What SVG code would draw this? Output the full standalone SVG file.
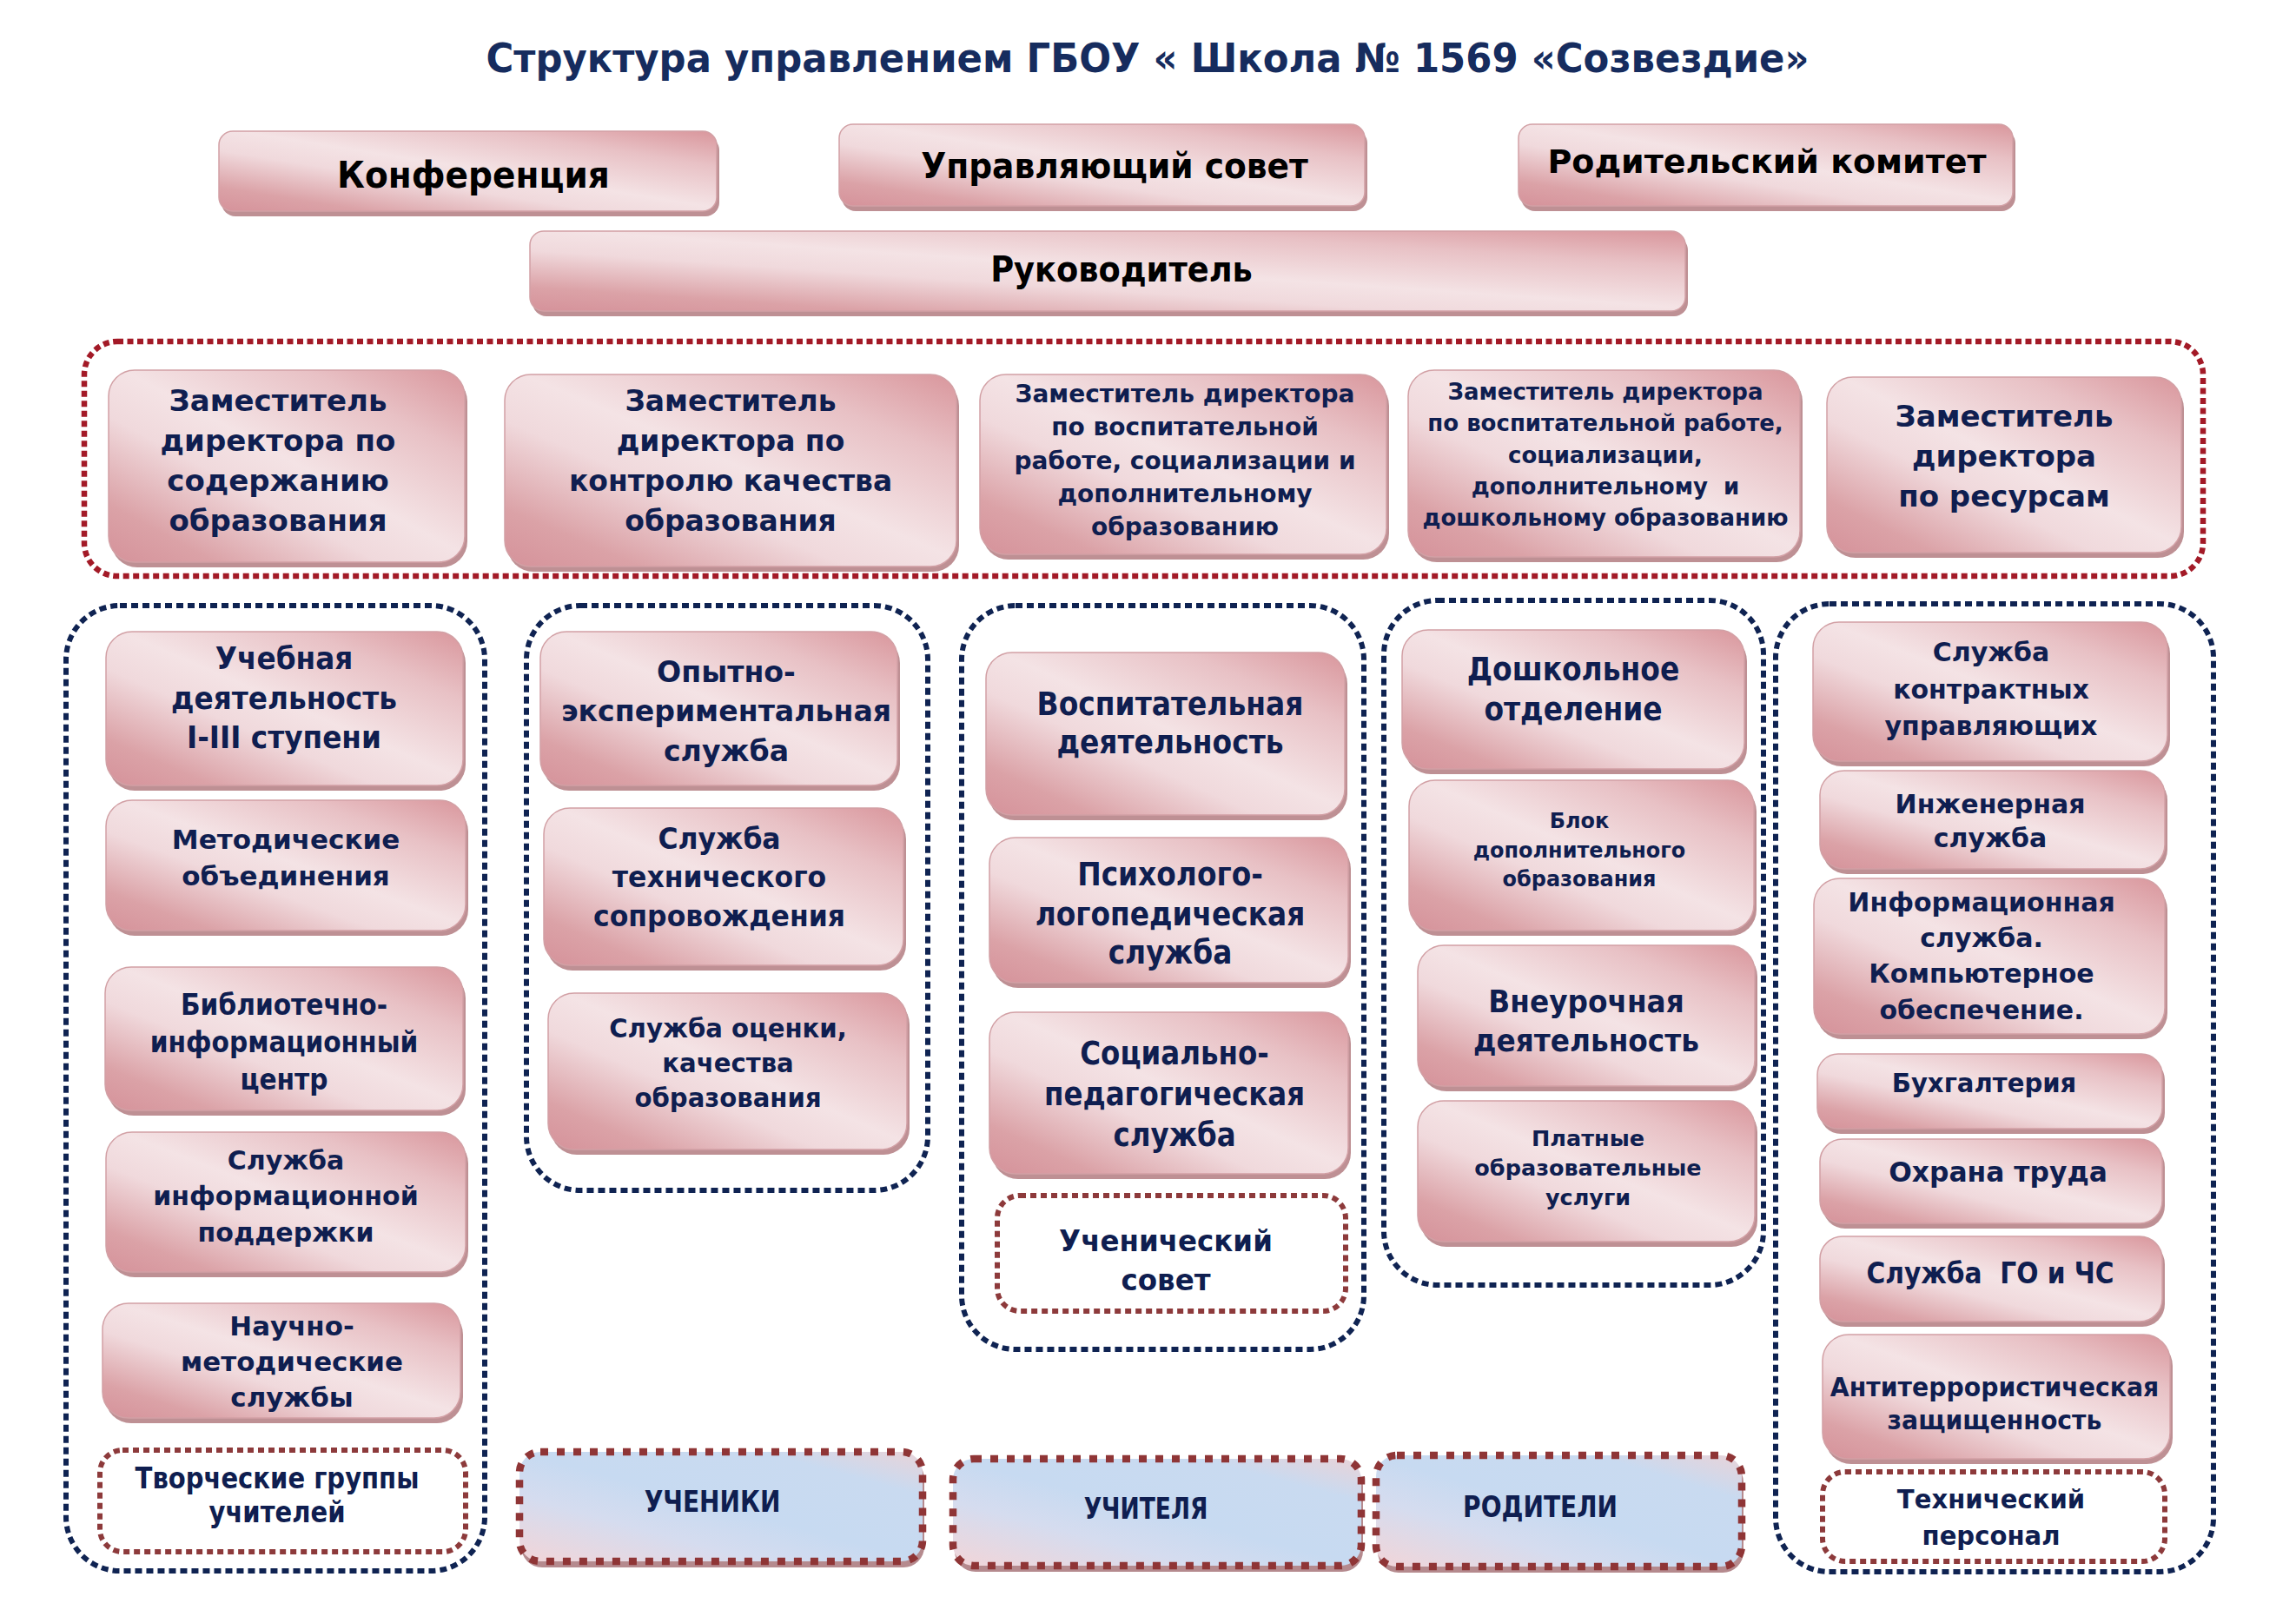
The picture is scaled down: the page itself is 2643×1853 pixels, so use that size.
<svg xmlns="http://www.w3.org/2000/svg" width="2643" height="1853" viewBox="0 0 2643 1853">
<defs>
<linearGradient id="pk" x1="1" y1="0" x2="0" y2="1">
<stop offset="0" stop-color="#d9969c"/>
<stop offset="0.22" stop-color="#e8c1c5"/>
<stop offset="0.48" stop-color="#f4e3e5"/>
<stop offset="0.62" stop-color="#f0d9dc"/>
<stop offset="0.85" stop-color="#dba2a7"/>
<stop offset="1" stop-color="#d5929a"/>
</linearGradient>
<linearGradient id="bl" x1="0" y1="1" x2="1" y2="0">
<stop offset="0" stop-color="#f2d5d8"/>
<stop offset="0.3" stop-color="#d5dcef"/>
<stop offset="0.5" stop-color="#c7daf1"/>
<stop offset="0.8" stop-color="#c9daf0"/>
<stop offset="1" stop-color="#e9d3d8"/>
</linearGradient>
<style>
.sh{fill:#be9094}
.shb{fill:#b58a8e}
.bx{fill:url(#pk);stroke:#d2a0a5;stroke-width:1.5}
.t{font-family:"DejaVu Sans","Liberation Sans",sans-serif;font-weight:bold;fill:#0f1e50;text-anchor:middle}
.k{fill:#000}
.ttl{fill:#162c5e}
.cr{fill:none;stroke:#a31a27;stroke-width:6.5;stroke-dasharray:7 4.5}
.cb{fill:none;stroke:#0f2352;stroke-width:6;stroke-dasharray:8 5}
.dr{fill:#fff;stroke:#8d3a3b;stroke-width:6;stroke-dasharray:7 5}
.db{fill:url(#bl);stroke:#8f3536;stroke-width:8.5;stroke-dasharray:9 10}
</style>
</defs>
<rect width="2643" height="1853" fill="#fff"/>

<g id="title">
<text class="t ttl" x="1321" y="83" font-size="46" textLength="1523" lengthAdjust="spacingAndGlyphs">Структура управлением ГБОУ « Школа № 1569 «Созвездие»</text>
</g>

<g id="connectors"></g>

<!-- top row -->
<g id="konferenciya">
<rect class="sh" x="255" y="157" width="573" height="92" rx="16"/>
<rect class="bx" x="252" y="151" width="573" height="92" rx="16"/>
<text class="t k" transform="matrix(0.93 0 0 1 545 0)" font-size="42"><tspan x="0" y="216">Конференция</tspan></text>
</g>
<g id="upravlyayushchiy-sovet">
<rect class="sh" x="969" y="149" width="605" height="94" rx="16"/>
<rect class="bx" x="966" y="143" width="605" height="94" rx="16"/>
<text class="t k" transform="matrix(0.94 0 0 1 1283 0)" font-size="40"><tspan x="0" y="205">Управляющий совет</tspan></text>
</g>
<g id="roditelskiy-komitet">
<rect class="sh" x="1751" y="149" width="569" height="94" rx="16"/>
<rect class="bx" x="1748" y="143" width="569" height="94" rx="16"/>
<text class="t k" transform="matrix(1 0 0 1 2034 0)" font-size="38"><tspan x="0" y="199">Родительский комитет</tspan></text>
</g>
<g id="rukovoditel">
<rect class="sh" x="613" y="272" width="1330" height="92" rx="16"/>
<rect class="bx" x="610" y="266" width="1330" height="92" rx="16"/>
<text class="t k" transform="matrix(0.92 0 0 1 1291 0)" font-size="40"><tspan x="0" y="324">Руководитель</tspan></text>
</g>

<!-- deputies -->
<g id="zamestiteli">
<rect class="cr" x="97" y="393" width="2439" height="270" rx="38"/>
</g>
<g id="zam-soderzhanie">
<rect class="sh" x="128" y="432" width="410" height="221" rx="30"/>
<rect class="bx" x="125" y="426" width="410" height="221" rx="30"/>
<text class="t" transform="matrix(1 0 0 1 320 0)" font-size="34"><tspan x="0" y="473">Заместитель</tspan><tspan x="0" y="519">директора по</tspan><tspan x="0" y="565">содержанию</tspan><tspan x="0" y="611">образования</tspan></text>
</g>
<g id="zam-kontrol">
<rect class="sh" x="584" y="437" width="520" height="221" rx="30"/>
<rect class="bx" x="581" y="431" width="520" height="221" rx="30"/>
<text class="t" transform="matrix(0.97 0 0 1 841 0)" font-size="34"><tspan x="0" y="473">Заместитель</tspan><tspan x="0" y="519">директора по</tspan><tspan x="0" y="565">контролю качества</tspan><tspan x="0" y="611">образования</tspan></text>
</g>
<g id="zam-vospitanie">
<rect class="sh" x="1131" y="437" width="468" height="207" rx="30"/>
<rect class="bx" x="1128" y="431" width="468" height="207" rx="30"/>
<text class="t" transform="matrix(1 0 0 1 1364 0)" font-size="28"><tspan x="0" y="463">Заместитель директора</tspan><tspan x="0" y="501">по воспитательной</tspan><tspan x="0" y="540">работе, социализации и</tspan><tspan x="0" y="578">дополнительному</tspan><tspan x="0" y="616">образованию</tspan></text>
</g>
<g id="zam-doshkolnoe">
<rect class="sh" x="1624" y="432" width="451" height="215" rx="30"/>
<rect class="bx" x="1621" y="426" width="451" height="215" rx="30"/>
<text class="t" transform="matrix(1 0 0 1 1848 0)" font-size="26" xml:space="preserve"><tspan x="0" y="460">Заместитель директора</tspan><tspan x="0" y="496">по воспитательной работе,</tspan><tspan x="0" y="533">социализации,</tspan><tspan x="0" y="569">дополнительному  и</tspan><tspan x="0" y="605">дошкольному образованию</tspan></text>
</g>
<g id="zam-resursy">
<rect class="sh" x="2106" y="440" width="408" height="202" rx="30"/>
<rect class="bx" x="2103" y="434" width="408" height="202" rx="30"/>
<text class="t" transform="matrix(1 0 0 1 2307 0)" font-size="34"><tspan x="0" y="491">Заместитель</tspan><tspan x="0" y="537">директора</tspan><tspan x="0" y="583">по ресурсам</tspan></text>
</g>

<!-- column containers -->
<g id="col1"><rect class="cb" x="76" y="697" width="482" height="1111" rx="62"/></g>
<g id="col2"><rect class="cb" x="606" y="697" width="462" height="673" rx="62"/></g>
<g id="col3"><rect class="cb" x="1107" y="697" width="463" height="856" rx="62"/></g>
<g id="col4"><rect class="cb" x="1593" y="691" width="437" height="788" rx="62"/></g>
<g id="col5"><rect class="cb" x="2044" y="695" width="504" height="1114" rx="62"/></g>

<!-- column 1 -->
<g id="uchebnaya">
<rect class="sh" x="125" y="733" width="411" height="177" rx="30"/>
<rect class="bx" x="122" y="727" width="411" height="177" rx="30"/>
<text class="t" transform="matrix(0.91 0 0 1 327 0)" font-size="36"><tspan x="0" y="770">Учебная</tspan><tspan x="0" y="816">деятельность</tspan><tspan x="0" y="861">I-III ступени</tspan></text>
</g>
<g id="metod-obedineniya">
<rect class="sh" x="125" y="927" width="414" height="150" rx="30"/>
<rect class="bx" x="122" y="921" width="414" height="150" rx="30"/>
<text class="t" transform="matrix(1 0 0 1 329 0)" font-size="31"><tspan x="0" y="977">Методические</tspan><tspan x="0" y="1019">объединения</tspan></text>
</g>
<g id="bibl-centr">
<rect class="sh" x="124" y="1119" width="412" height="165" rx="30"/>
<rect class="bx" x="121" y="1113" width="412" height="165" rx="30"/>
<text class="t" transform="matrix(0.9 0 0 1 327 0)" font-size="33"><tspan x="0" y="1168">Библиотечно-</tspan><tspan x="0" y="1211">информационный</tspan><tspan x="0" y="1254">центр</tspan></text>
</g>
<g id="info-podderzhka">
<rect class="sh" x="125" y="1309" width="414" height="161" rx="30"/>
<rect class="bx" x="122" y="1303" width="414" height="161" rx="30"/>
<text class="t" transform="matrix(1 0 0 1 329 0)" font-size="30"><tspan x="0" y="1346">Служба</tspan><tspan x="0" y="1387">информационной</tspan><tspan x="0" y="1429">поддержки</tspan></text>
</g>
<g id="nauchno-metod">
<rect class="sh" x="121" y="1506" width="412" height="132" rx="30"/>
<rect class="bx" x="118" y="1500" width="412" height="132" rx="30"/>
<text class="t" transform="matrix(1.03 0 0 1 336 0)" font-size="30"><tspan x="0" y="1537">Научно-</tspan><tspan x="0" y="1578">методические</tspan><tspan x="0" y="1619">службы</tspan></text>
</g>
<g id="tvorcheskie-gruppy">
<rect class="dr" x="115" y="1669" width="421" height="117" rx="26"/>
<text class="t" transform="matrix(0.88 0 0 1 319 0)" font-size="33"><tspan x="0" y="1713">Творческие группы</tspan><tspan x="0" y="1752">учителей</tspan></text>
</g>

<!-- column 2 -->
<g id="opytno-eksp">
<rect class="sh" x="625" y="733" width="411" height="177" rx="30"/>
<rect class="bx" x="622" y="727" width="411" height="177" rx="30"/>
<text class="t" transform="matrix(0.99 0 0 1 836 0)" font-size="33.5"><tspan x="0" y="785">Опытно-</tspan><tspan x="0" y="830">экспериментальная</tspan><tspan x="0" y="876">служба</tspan></text>
</g>
<g id="tech-soprovozhdenie">
<rect class="sh" x="629" y="936" width="414" height="181" rx="30"/>
<rect class="bx" x="626" y="930" width="414" height="181" rx="30"/>
<text class="t" transform="matrix(0.94 0 0 1 828 0)" font-size="33.5"><tspan x="0" y="977">Служба</tspan><tspan x="0" y="1021">технического</tspan><tspan x="0" y="1066">сопровождения</tspan></text>
</g>
<g id="ocenka-kachestva">
<rect class="sh" x="634" y="1149" width="413" height="180" rx="30"/>
<rect class="bx" x="631" y="1143" width="413" height="180" rx="30"/>
<text class="t" transform="matrix(0.94 0 0 1 838 0)" font-size="31"><tspan x="0" y="1194">Служба оценки,</tspan><tspan x="0" y="1234">качества</tspan><tspan x="0" y="1274">образования</tspan></text>
</g>

<!-- column 3 -->
<g id="vospitatelnaya">
<rect class="sh" x="1138" y="757" width="413" height="187" rx="30"/>
<rect class="bx" x="1135" y="751" width="413" height="187" rx="30"/>
<text class="t" transform="matrix(0.89 0 0 1 1347 0)" font-size="37"><tspan x="0" y="823">Воспитательная</tspan><tspan x="0" y="867">деятельность</tspan></text>
</g>
<g id="psiholog">
<rect class="sh" x="1142" y="970" width="413" height="167" rx="30"/>
<rect class="bx" x="1139" y="964" width="413" height="167" rx="30"/>
<text class="t" transform="matrix(0.9 0 0 1 1347 0)" font-size="36.5"><tspan x="0" y="1019">Психолого-</tspan><tspan x="0" y="1065">логопедическая</tspan><tspan x="0" y="1109">служба</tspan></text>
</g>
<g id="socialno-ped">
<rect class="sh" x="1142" y="1171" width="413" height="186" rx="30"/>
<rect class="bx" x="1139" y="1165" width="413" height="186" rx="30"/>
<text class="t" transform="matrix(0.89 0 0 1 1352 0)" font-size="36.5"><tspan x="0" y="1225">Социально-</tspan><tspan x="0" y="1272">педагогическая</tspan><tspan x="0" y="1319">служба</tspan></text>
</g>
<g id="uchenicheskiy-sovet">
<rect class="dr" x="1148" y="1376" width="401" height="133" rx="26"/>
<text class="t" transform="matrix(0.97 0 0 1 1342 0)" font-size="33.5"><tspan x="0" y="1440">Ученический</tspan><tspan x="0" y="1485">совет</tspan></text>
</g>

<!-- column 4 -->
<g id="doshkolnoe">
<rect class="sh" x="1617" y="731" width="394" height="160" rx="30"/>
<rect class="bx" x="1614" y="725" width="394" height="160" rx="30"/>
<text class="t" transform="matrix(0.89 0 0 1 1811 0)" font-size="37"><tspan x="0" y="783">Дошкольное</tspan><tspan x="0" y="829">отделение</tspan></text>
</g>
<g id="blok-dop">
<rect class="sh" x="1625" y="904" width="397" height="173" rx="30"/>
<rect class="bx" x="1622" y="898" width="397" height="173" rx="30"/>
<text class="t" transform="matrix(0.94 0 0 1 1818 0)" font-size="25.5"><tspan x="0" y="953">Блок</tspan><tspan x="0" y="987">дополнительного</tspan><tspan x="0" y="1020">образования</tspan></text>
</g>
<g id="vneurochnaya">
<rect class="sh" x="1635" y="1094" width="388" height="162" rx="30"/>
<rect class="bx" x="1632" y="1088" width="388" height="162" rx="30"/>
<text class="t" transform="matrix(0.91 0 0 1 1826 0)" font-size="36"><tspan x="0" y="1165">Внеурочная</tspan><tspan x="0" y="1210">деятельность</tspan></text>
</g>
<g id="platnye">
<rect class="sh" x="1635" y="1273" width="388" height="162" rx="30"/>
<rect class="bx" x="1632" y="1267" width="388" height="162" rx="30"/>
<text class="t" transform="matrix(1 0 0 1 1828 0)" font-size="25.5"><tspan x="0" y="1319">Платные</tspan><tspan x="0" y="1353">образовательные</tspan><tspan x="0" y="1387">услуги</tspan></text>
</g>

<!-- column 5 -->
<g id="kontraktnye">
<rect class="sh" x="2090" y="722" width="408" height="160" rx="30"/>
<rect class="bx" x="2087" y="716" width="408" height="160" rx="30"/>
<text class="t" transform="matrix(1 0 0 1 2292 0)" font-size="30"><tspan x="0" y="761">Служба</tspan><tspan x="0" y="804">контрактных</tspan><tspan x="0" y="846">управляющих</tspan></text>
</g>
<g id="inzhenernaya">
<rect class="sh" x="2098" y="893" width="397" height="113" rx="28"/>
<rect class="bx" x="2095" y="887" width="397" height="113" rx="28"/>
<text class="t" transform="matrix(1 0 0 1 2291 0)" font-size="30"><tspan x="0" y="936">Инженерная</tspan><tspan x="0" y="975">служба</tspan></text>
</g>
<g id="informacionnaya">
<rect class="sh" x="2091" y="1017" width="404" height="179" rx="30"/>
<rect class="bx" x="2088" y="1011" width="404" height="179" rx="30"/>
<text class="t" transform="matrix(1 0 0 1 2281 0)" font-size="30"><tspan x="0" y="1049">Информационная</tspan><tspan x="0" y="1090">служба.</tspan><tspan x="0" y="1131">Компьютерное</tspan><tspan x="0" y="1173">обеспечение.</tspan></text>
</g>
<g id="buhgalteriya">
<rect class="sh" x="2095" y="1219" width="397" height="86" rx="24"/>
<rect class="bx" x="2092" y="1213" width="397" height="86" rx="24"/>
<text class="t" transform="matrix(0.97 0 0 1 2284 0)" font-size="30"><tspan x="0" y="1257">Бухгалтерия</tspan></text>
</g>
<g id="ohrana-truda">
<rect class="sh" x="2098" y="1317" width="394" height="97" rx="26"/>
<rect class="bx" x="2095" y="1311" width="394" height="97" rx="26"/>
<text class="t" transform="matrix(0.98 0 0 1 2300 0)" font-size="32"><tspan x="0" y="1360">Охрана труда</tspan></text>
</g>
<g id="go-chs">
<rect class="sh" x="2098" y="1429" width="394" height="98" rx="26"/>
<rect class="bx" x="2095" y="1423" width="394" height="98" rx="26"/>
<text class="t" transform="matrix(0.9 0 0 1 2291 0)" font-size="33" xml:space="preserve"><tspan x="0" y="1477">Служба  ГО и ЧС</tspan></text>
</g>
<g id="antiterror">
<rect class="sh" x="2101" y="1542" width="400" height="143" rx="30"/>
<rect class="bx" x="2098" y="1536" width="400" height="143" rx="30"/>
<text class="t" transform="matrix(0.96 0 0 1 2296 0)" font-size="29.5"><tspan x="0" y="1607">Антитеррористическая</tspan><tspan x="0" y="1645">защищенность</tspan></text>
</g>
<g id="tech-personal">
<rect class="dr" x="2098" y="1694" width="394" height="103" rx="26"/>
<text class="t" transform="matrix(0.97 0 0 1 2292 0)" font-size="30"><tspan x="0" y="1736">Технический</tspan><tspan x="0" y="1778">персонал</tspan></text>
</g>

<!-- bottom -->
<g id="ucheniki">
<rect class="shb" x="600" y="1678" width="464" height="126" rx="24"/>
<rect class="db" x="598" y="1671" width="464" height="126" rx="24"/>
<text class="t" transform="matrix(0.85 0 0 1 820 0)" font-size="33"><tspan x="0" y="1740">УЧЕНИКИ</tspan></text>
</g>
<g id="uchitelya">
<rect class="shb" x="1099" y="1686" width="470" height="123" rx="24"/>
<rect class="db" x="1097" y="1679" width="470" height="123" rx="24"/>
<text class="t" transform="matrix(0.78 0 0 1 1319 0)" font-size="34"><tspan x="0" y="1748">УЧИТЕЛЯ</tspan></text>
</g>
<g id="roditeli">
<rect class="shb" x="1586" y="1682" width="421" height="128" rx="24"/>
<rect class="db" x="1584" y="1675" width="421" height="128" rx="24"/>
<text class="t" transform="matrix(0.85 0 0 1 1773 0)" font-size="33"><tspan x="0" y="1746">РОДИТЕЛИ</tspan></text>
</g>
</svg>
